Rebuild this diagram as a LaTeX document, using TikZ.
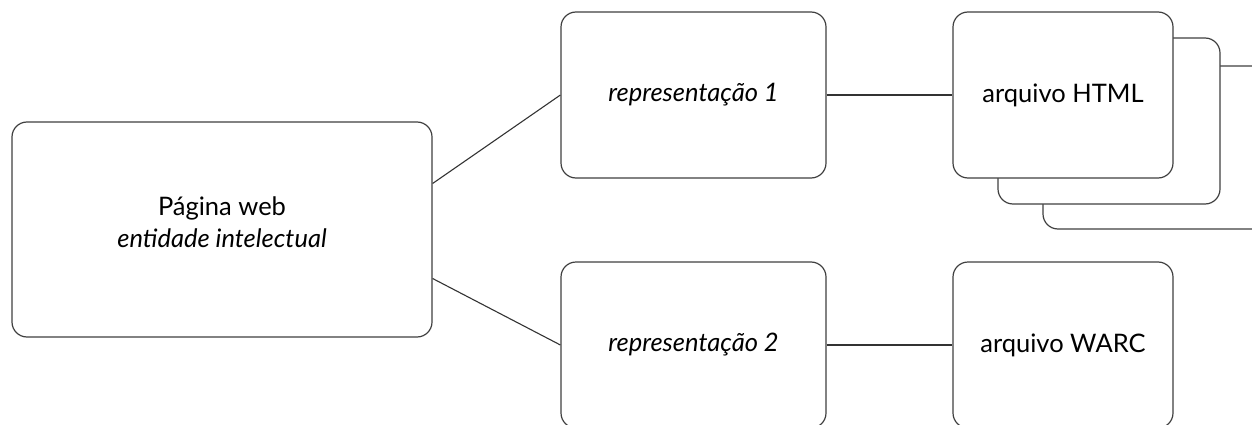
\documentclass[tikz,border=0pt]{standalone}
\usepackage{fontspec}
\setmainfont{Lato}
\begin{document}
\begin{tikzpicture}[x=1pt,y=-1pt,
  card/.style={draw=black!75, line width=1.2pt, fill=white, rounded corners=15pt,
    align=center, inner sep=0pt, font=\fontsize{25.5}{32}\selectfont},
  link/.style={draw=black!80, line width=1.1pt}]
  \clip (0,0) rectangle (1252,425);
  \useasboundingbox (0,0) rectangle (1252,425);

  % stacked copies behind the HTML file
  \draw[card] (1043,66) rectangle (1270,229);
  \draw[card] (998,38) rectangle (1220,204);

  \node[card, minimum width=420pt, minimum height=215pt] (main) at (222,229.5)
    {Página web\\ \textit{entidade intelectual}\\[-18pt]};
  \node[card, minimum width=265pt, minimum height=166pt] (rep1) at (693.5,95)
    {\textit{representação 1}};
  \node[card, minimum width=265pt, minimum height=166pt] (rep2) at (693.5,345)
    {\textit{representação 2}};
  \node[card, minimum width=220pt, minimum height=166pt] (html) at (1063,95)
    {arquivo HTML};
  \node[card, minimum width=220pt, minimum height=166pt] (warc) at (1063,345)
    {arquivo WARC};

  \coordinate (mainU) at ([yshift=46pt]main.east);
  \coordinate (mainD) at ([yshift=-49pt]main.east);

  \draw[link] (mainU) -- (rep1.west);
  \draw[link] (mainD) -- (rep2.west);
  \draw[link] (rep1.east) -- (html.west);
  \draw[link] (rep2.east) -- (warc.west);
\end{tikzpicture}
\end{document}
